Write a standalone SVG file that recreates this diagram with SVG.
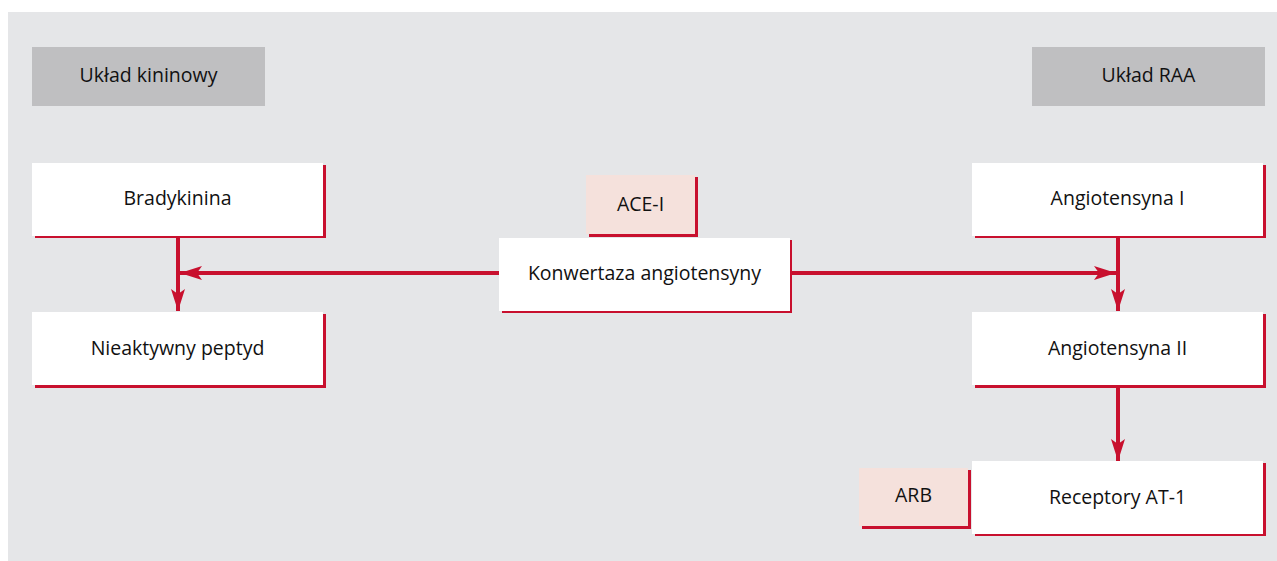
<svg xmlns="http://www.w3.org/2000/svg" width="1277" height="561" viewBox="0 0 1277 561">
<style>
.bg{fill:#e5e6e8}
.hdr{fill:#bfbfc1}
.sh{fill:#c8102e}
.box{fill:#ffffff}
.pink{fill:#f5e1dc}
.t{font-family:"Open Sans","Noto Sans",sans-serif;font-size:19.5px;fill:#111111;text-anchor:middle}
.c{stroke:#c8102e;stroke-width:4;fill:none}
</style>
<defs>
<marker id="ah" markerUnits="userSpaceOnUse" markerWidth="22" markerHeight="14" refX="22" refY="7" orient="auto">
<path d="M0,0 L22,7 L0,14 L5,7 Z" fill="#c8102e"/>
</marker>
</defs>
<rect class="bg" x="8" y="12" width="1269" height="549"/>
<g id="hdr-kinin"><rect class="hdr" x="32" y="47" width="233" height="59"/><text class="t" x="148.5" y="82">Układ kininowy</text></g>
<g id="hdr-raa"><rect class="hdr" x="1032" y="47" width="233" height="59"/><text class="t" x="1148.5" y="82">Układ RAA</text></g>
<g id="connectors">
<line class="c" x1="178" y1="237" x2="178" y2="311" marker-end="url(#ah)"/>
<line class="c" x1="499" y1="273" x2="180" y2="273" marker-end="url(#ah)"/>
<line class="c" x1="790" y1="273" x2="1116" y2="273" marker-end="url(#ah)"/>
<line class="c" x1="1118" y1="237" x2="1118" y2="311" marker-end="url(#ah)"/>
<line class="c" x1="1118" y1="387" x2="1118" y2="461" marker-end="url(#ah)"/>
</g>
<g id="bradykinina"><rect class="sh" x="35" y="165" width="291" height="73"/><rect class="box" x="32" y="163" width="291" height="73"/><text class="t" x="177.5" y="205">Bradykinina</text></g>
<g id="nieaktywny"><rect class="sh" x="35" y="314" width="291" height="74"/><rect class="box" x="32" y="312" width="291" height="73"/><text class="t" x="177.5" y="355">Nieaktywny peptyd</text></g>
<g id="ace-i"><rect class="sh" x="589" y="177" width="109" height="60"/><rect class="pink" x="586" y="175" width="109" height="59"/><text class="t" x="640.5" y="211">ACE-I</text></g>
<g id="konwertaza"><rect class="sh" x="502" y="240" width="290" height="73"/><rect class="box" x="499" y="238" width="291" height="73"/><text class="t" x="644.5" y="280">Konwertaza angiotensyny</text></g>
<g id="ang1"><rect class="sh" x="975" y="165" width="291" height="73"/><rect class="box" x="972" y="163" width="291" height="73"/><text class="t" x="1117.5" y="205">Angiotensyna I</text></g>
<g id="ang2"><rect class="sh" x="975" y="314" width="291" height="74"/><rect class="box" x="972" y="312" width="291" height="73"/><text class="t" x="1117.5" y="355">Angiotensyna II</text></g>
<g id="arb"><rect class="sh" x="862" y="470" width="109" height="59"/><rect class="pink" x="859" y="468" width="109" height="58"/><text class="t" x="913.5" y="502">ARB</text></g>
<g id="at1"><rect class="sh" x="975" y="463" width="291" height="73"/><rect class="box" x="972" y="461" width="291" height="73"/><text class="t" x="1117.5" y="504">Receptory AT-1</text></g>
</svg>
